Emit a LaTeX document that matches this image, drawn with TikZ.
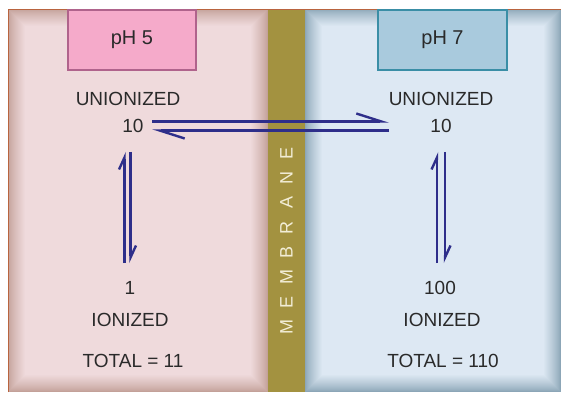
\documentclass[tikz,border=0pt]{standalone}
\usepackage{fontspec}
\setmainfont{Liberation Sans}
\usetikzlibrary{arrows.meta}
\definecolor{pinkin}{HTML}{EFDADC}
\definecolor{pinkedge}{HTML}{C3A199}
\definecolor{bluein}{HTML}{DDE8F3}
\definecolor{blueedge}{HTML}{8CA6B7}
\definecolor{membr}{HTML}{A39240}
\definecolor{membtext}{HTML}{F2EDD6}
\definecolor{frame}{HTML}{B9643F}
\definecolor{phfivefill}{HTML}{F5AACA}
\definecolor{phfivedraw}{HTML}{B0638C}
\definecolor{phsevenfill}{HTML}{A9CADD}
\definecolor{phsevendraw}{HTML}{3A8EA6}
\definecolor{navy}{HTML}{2E2E8A}
\definecolor{txt}{HTML}{2A2A2A}
\tikzset{
  lbl/.style={inner sep=0pt, text=txt, font=\fontsize{19}{22}\selectfont},
  phbox/.style={inner sep=0pt, text=txt, font=\fontsize{20}{24}\selectfont, line width=1.5pt},
  eqarrow/.style={draw=navy, line width=2.4pt, -{Straight Barb[harpoon,length=25pt,width=16pt,line width=2.4pt]}},
  eqvarrow/.style={draw=navy, line width=2.4pt, -{Straight Barb[harpoon,length=12pt,width=11pt,line width=2.4pt]}},
}
\begin{document}
\begin{tikzpicture}[x=1pt,y=-1pt]
\useasboundingbox (0,0) rectangle (561,395);
% left panel bevel
\foreach \i in {0,...,17}{
  \pgfmathsetmacro\p{100*(\i/17)^0.8}
  \fill[pinkin!\p!pinkedge] (8+\i,9+\i) rectangle (268-\i,392-\i);
}
% right panel bevel
\foreach \i in {0,...,17}{
  \pgfmathsetmacro\p{100*(\i/17)^0.8}
  \fill[bluein!\p!blueedge] (305+\i,9+\i) rectangle (561-\i,392-\i);
}
% membrane
\fill[membr] (268,9) rectangle (305,392);
% frame line
\draw[frame, line width=1.5pt] (8.5,392) -- (8.5,9.5) -- (561,9.5);
% pH boxes
\node[phbox, draw=phfivedraw, fill=phfivefill, minimum width=128pt, minimum height=60pt] (ph5) at (132,40) {pH 5};
\node[phbox, draw=phsevendraw, fill=phsevenfill, minimum width=129pt, minimum height=60pt] (ph7) at (442.5,40) {pH 7};
% labels
\node[lbl] (LU) at (128,99) {UNIONIZED};
\node[lbl] (L10) at (133,126) {10};
\node[lbl] (L1) at (130,288) {1};
\node[lbl] (LI) at (130,320) {IONIZED};
\node[lbl] (LT) at (133,361) {TOTAL = 11};
\node[lbl] (RU) at (441,99) {UNIONIZED};
\node[lbl] (R10) at (441,126) {10};
\node[lbl] (R100) at (440,288) {100};
\node[lbl] (RI) at (442,320) {IONIZED};
\node[lbl] (RT) at (443,361) {TOTAL = 110};
% membrane text
\node[rotate=90, inner sep=0pt, text=membtext, font=\fontsize{18}{20}\selectfont] (mem) at (286.5,240)
  {\makebox[24.8pt]{M}\makebox[24.8pt]{E}\makebox[24.8pt]{M}\makebox[24.8pt]{B}\makebox[24.8pt]{R}\makebox[24.8pt]{A}\makebox[24.8pt]{N}\makebox[24.8pt]{E}};
% equilibrium arrows (horizontal)
\draw[eqarrow] ([xshift=19pt,yshift=4.5pt]L10.center) -- ([xshift=-52pt,yshift=4.5pt]R10.center);
\draw[eqarrow] ([xshift=-52pt,yshift=-4.5pt]R10.center) -- ([xshift=19pt,yshift=-4.5pt]L10.center);
% vertical left
\draw[eqvarrow] ([xshift=-5.5pt,yshift=25pt]L1.center) -- ([xshift=-8.5pt,yshift=-26pt]L10.center);
\draw[eqvarrow] ([xshift=-2.5pt,yshift=-26pt]L10.center) -- ([xshift=0.5pt,yshift=25pt]L1.center);
% vertical right
\draw[eqvarrow] ([xshift=-3pt,yshift=25pt]R100.center) -- ([xshift=-4pt,yshift=-26pt]R10.center);
\draw[eqvarrow] ([xshift=4pt,yshift=-26pt]R10.center) -- ([xshift=5pt,yshift=25pt]R100.center);
\end{tikzpicture}
\end{document}
